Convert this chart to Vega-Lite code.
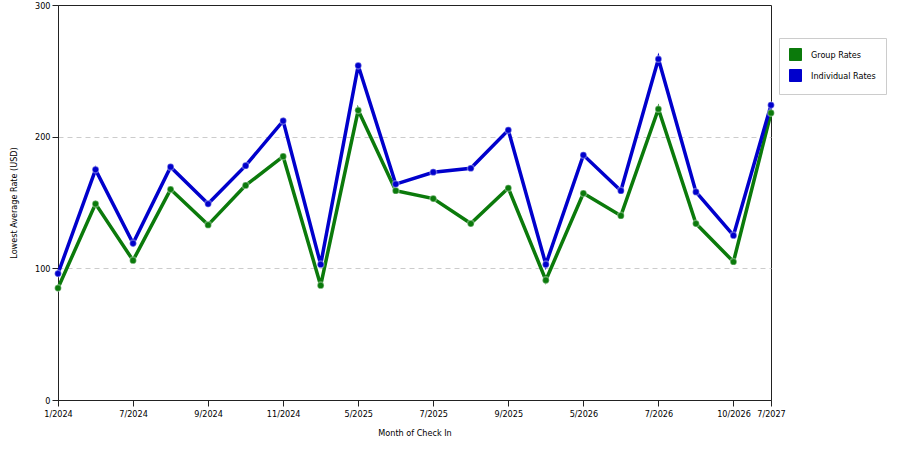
{
  "$schema": "https://vega.github.io/schema/vega-lite/v6.json",
  "width": 713,
  "height": 395,
  "autosize": "none",
  "padding": {"left": 58, "top": 5, "right": 129, "bottom": 50},
  "background": "white",
  "config": {
    "view": {"stroke": "#222", "strokeWidth": 1},
    "font": "DejaVu Sans Condensed",
    "axis": {
      "labelFont": "DejaVu Sans Condensed",
      "titleFont": "DejaVu Sans Condensed",
      "labelFontSize": 9,
      "titleFontSize": 9,
      "titleFontWeight": "normal",
      "labelColor": "#000",
      "titleColor": "#000",
      "domainColor": "#222",
      "tickColor": "#222",
      "tickSize": 6
    }
  },
  "data": {
    "values": [
      {"month": "1/2024", "series": "Group Rates", "rate": 85},
      {"month": "4/2024", "series": "Group Rates", "rate": 149},
      {"month": "7/2024", "series": "Group Rates", "rate": 106},
      {"month": "8/2024", "series": "Group Rates", "rate": 160},
      {"month": "9/2024", "series": "Group Rates", "rate": 133},
      {"month": "10/2024", "series": "Group Rates", "rate": 163},
      {"month": "11/2024", "series": "Group Rates", "rate": 185},
      {"month": "12/2024", "series": "Group Rates", "rate": 87},
      {"month": "5/2025", "series": "Group Rates", "rate": 220},
      {"month": "6/2025", "series": "Group Rates", "rate": 159},
      {"month": "7/2025", "series": "Group Rates", "rate": 153},
      {"month": "8/2025", "series": "Group Rates", "rate": 134},
      {"month": "9/2025", "series": "Group Rates", "rate": 161},
      {"month": "10/2025", "series": "Group Rates", "rate": 91},
      {"month": "5/2026", "series": "Group Rates", "rate": 157},
      {"month": "6/2026", "series": "Group Rates", "rate": 140},
      {"month": "7/2026", "series": "Group Rates", "rate": 221},
      {"month": "8/2026", "series": "Group Rates", "rate": 134},
      {"month": "10/2026", "series": "Group Rates", "rate": 105},
      {"month": "7/2027", "series": "Group Rates", "rate": 218},
      {"month": "1/2024", "series": "Individual Rates", "rate": 96},
      {"month": "4/2024", "series": "Individual Rates", "rate": 175},
      {"month": "7/2024", "series": "Individual Rates", "rate": 119},
      {"month": "8/2024", "series": "Individual Rates", "rate": 177},
      {"month": "9/2024", "series": "Individual Rates", "rate": 149},
      {"month": "10/2024", "series": "Individual Rates", "rate": 178},
      {"month": "11/2024", "series": "Individual Rates", "rate": 212},
      {"month": "12/2024", "series": "Individual Rates", "rate": 103},
      {"month": "5/2025", "series": "Individual Rates", "rate": 254},
      {"month": "6/2025", "series": "Individual Rates", "rate": 164},
      {"month": "7/2025", "series": "Individual Rates", "rate": 173},
      {"month": "8/2025", "series": "Individual Rates", "rate": 176},
      {"month": "9/2025", "series": "Individual Rates", "rate": 205},
      {"month": "10/2025", "series": "Individual Rates", "rate": 103},
      {"month": "5/2026", "series": "Individual Rates", "rate": 186},
      {"month": "6/2026", "series": "Individual Rates", "rate": 159},
      {"month": "7/2026", "series": "Individual Rates", "rate": 259},
      {"month": "8/2026", "series": "Individual Rates", "rate": 158},
      {"month": "10/2026", "series": "Individual Rates", "rate": 125},
      {"month": "7/2027", "series": "Individual Rates", "rate": 224}
    ]
  },
  "encoding": {
    "x": {
      "field": "month",
      "type": "ordinal",
      "sort": null,
      "scale": {"type": "point", "padding": 0},
      "axis": {
        "title": "Month of Check In",
        "labelAngle": 0,
        "grid": false,
        "values": ["1/2024", "7/2024", "9/2024", "11/2024", "5/2025", "7/2025", "9/2025", "5/2026", "7/2026", "10/2026", "7/2027"],
        "labelPadding": 3,
        "titlePadding": 10
      }
    },
    "y": {
      "field": "rate",
      "type": "quantitative",
      "scale": {"domain": [0, 300], "nice": false},
      "axis": {
        "title": "Lowest Average Rate (USD)",
        "values": [0, 100, 200, 300],
        "gridDash": [5, 4],
        "gridColor": "#cccccc",
        "gridOpacity": {"condition": {"test": "datum.value === 100 || datum.value === 200", "value": 1}, "value": 0},
        "titlePadding": 16
      }
    }
  },
  "layer": [
    {
      "mark": {"type": "line", "strokeWidth": 3.5},
      "encoding": {
        "color": {
          "field": "series",
          "type": "nominal",
          "scale": {"domain": ["Group Rates", "Individual Rates"], "range": ["#0b7a0b", "#0000cc"]},
          "legend": {
            "title": null,
            "orient": "none",
            "legendX": 721,
            "legendY": 33,
            "symbolType": "square",
            "symbolSize": 144,
            "symbolFillColor": null,
            "symbolStrokeWidth": 1,
            "labelFont": "DejaVu Sans Condensed",
            "labelFontSize": 9,
            "labelColor": "#000",
            "rowPadding": 4,
            "padding": 10,
            "strokeColor": "#cccccc",
            "fillColor": "white",
            "labelOffset": 9,
            "symbolOpacity": 1
          }
        }
      }
    },
    {
      "mark": {"type": "point", "filled": true, "size": 45, "opacity": 1, "stroke": "#ffffff", "strokeOpacity": 0.35, "strokeWidth": 1.5},
      "encoding": {
        "color": {"field": "series", "type": "nominal"}
      }
    }
  ]
}
